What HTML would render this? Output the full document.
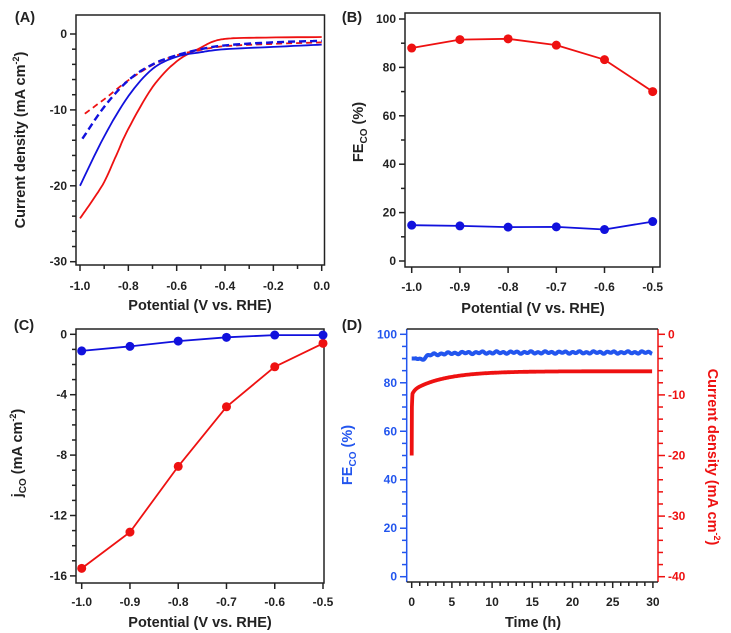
<!DOCTYPE html>
<html><head><meta charset="utf-8"><style>
html,body{margin:0;padding:0;background:#fff;}
svg{display:block;font-family:"Liberation Sans",Arial,sans-serif;font-weight:bold;}
</style></head><body>
<svg id="s" width="731" height="633" viewBox="0 0 731 633" xmlns="http://www.w3.org/2000/svg"></svg>
<script>
const S=document.getElementById('s');let h='';
const R='#ee1111',B='#1111dd',BL='#2255ee';
function L(x1,y1,x2,y2,c,w){h+=`<line x1="${x1}" y1="${y1}" x2="${x2}" y2="${y2}" stroke="${c||'#222'}" stroke-width="${w||1.5}"/>`;}
function T(x,y,t,o){o=o||{};h+=`<text x="${x}" y="${y}" font-size="${o.fs||12}" fill="${o.c||'#222'}" text-anchor="${o.a||'middle'}" ${o.tr?`transform="${o.tr}"`:''}>${t}</text>`;}
function rect(x1,y1,x2,y2){h+=`<rect x="${x1}" y="${y1}" width="${x2-x1}" height="${y2-y1}" fill="none" stroke="#222" stroke-width="1.5"/>`;}
function path(pts,c,w,dash){h+=`<polyline points="${pts.map(p=>p[0].toFixed(1)+','+p[1].toFixed(1)).join(' ')}" fill="none" stroke="${c}" stroke-width="${w||1.8}" ${dash?`stroke-dasharray="${dash}"`:''} stroke-linejoin="round"/>`;}
function dots(pts,c,r){pts.forEach(p=>h+=`<circle cx="${p[0]}" cy="${p[1]}" r="${r||4.5}" fill="${c}"/>`);}
function sm(pts,n){
 let out=[];for(let i=0;i<pts.length-1;i++){const p0=pts[Math.max(0,i-1)],p1=pts[i],p2=pts[i+1],p3=pts[Math.min(pts.length-1,i+2)];
 for(let k=0;k<n;k++){const t=k/n,t2=t*t,t3=t2*t;out.push([0,1].map(j=>0.5*((2*p1[j])+(-p0[j]+p2[j])*t+(2*p0[j]-5*p1[j]+4*p2[j]-p3[j])*t2+(-p0[j]+3*p1[j]-3*p2[j]+p3[j])*t3)));}}
 out.push(pts[pts.length-1]);return out;}

// Panel A
{const X=v=>80+(v+1)*241.7,Y=v=>34-v*7.59;
rect(76,15,324.5,265);
for(let i=0;i<=10;i++){const x=X(-1+i*0.1);L(x,265,x,i%2==0?271:269);}
[0,-0.2,-0.4,-0.6,-0.8,-1].forEach(v=>T(X(v),290,v.toFixed(1)));
for(let v=0;v>=-30;v-=2){const y=Y(v);L(76,y,v%10==0?70:72,y);}
[0,-10,-20,-30].forEach(v=>T(67,Y(v)+4,v,{a:'end'}));
T(200,310,'Potential (V vs. RHE)',{fs:14.5});
T(0,0,'Current density (mA cm<tspan dy="-6" font-size="9">-2</tspan><tspan dy="6">)</tspan>',{fs:14.5,tr:'translate(25,140) rotate(-90)'});
T(25,22,'(A)',{fs:14.5});
const m=a=>sm(a.map(p=>[X(p[0]),Y(p[1])]),8);
path(m([[-1,-24.3],[-0.95,-22],[-0.9,-19.5],[-0.85,-16],[-0.8,-12.5],[-0.7,-7],[-0.6,-3.6],[-0.5,-1.8],[-0.45,-1],[-0.4,-0.65],[-0.3,-0.5],[0,-0.4]]),R);
path(m([[-1,-20],[-0.9,-13.5],[-0.8,-8.2],[-0.7,-4.6],[-0.6,-3],[-0.5,-2.4],[-0.4,-2],[-0.2,-1.7],[0,-1.4]]),B);
path(m([[-0.98,-10.5],[-0.9,-8.6],[-0.8,-6.1],[-0.7,-4.1],[-0.6,-2.8],[-0.5,-2.1],[-0.4,-1.6],[-0.2,-1.3],[0,-1.1]]),R,1.8,'6,4');
path(m([[-0.99,-13.8],[-0.9,-9.6],[-0.8,-6.1],[-0.7,-4],[-0.6,-2.8],[-0.5,-2],[-0.4,-1.5],[-0.2,-1.1],[0,-0.9]]),B,2.4,'7,4');
}
// Panel B
{const X=v=>411.7+(v+1)*482,Y=v=>261-v*2.42;
rect(405,13,660,267);
for(let i=0;i<=5;i++){const x=X(-1+i*0.1);L(x,267,x,273);}
[-1,-0.9,-0.8,-0.7,-0.6,-0.5].forEach(v=>T(X(v),291,v.toFixed(1)));
for(let v=0;v<=100;v+=10){const y=Y(v);L(405,y,v%20==0?399:401,y);}
[0,20,40,60,80,100].forEach(v=>T(396,Y(v)+4,v,{a:'end'}));
T(533,313,'Potential (V vs. RHE)',{fs:14.5});
T(0,0,'FE<tspan dy="4" font-size="10">CO</tspan><tspan dy="-4"> (%)</tspan>',{fs:14.5,tr:'translate(363,132) rotate(-90)'});
T(352,22,'(B)',{fs:14.5});
const xs=[-1,-0.9,-0.8,-0.7,-0.6,-0.5];
const r=[88,91.5,91.8,89.2,83.2,70].map((v,i)=>[X(xs[i]),Y(v)]);
const b=[14.8,14.5,14,14.1,13,16.3].map((v,i)=>[X(xs[i]),Y(v)]);
path(r,R);dots(r,R);path(b,B);dots(b,B);
}
// Panel C
{const X=v=>81.7+(v+1)*482.6,Y=v=>334.3-v*15.1;
rect(76,329,324,583);
for(let i=0;i<=5;i++){const x=X(-1+i*0.1);L(x,583,x,589);}
[-1,-0.9,-0.8,-0.7,-0.6,-0.5].forEach(v=>T(X(v),606,v.toFixed(1)));
for(let v=0;v>=-16;v-=1){const y=Y(v);L(76,y,v%4==0?70:72,y);}
[0,-4,-8,-12,-16].forEach(v=>T(67,Y(v)+4,v,{a:'end'}));
T(200,627,'Potential (V vs. RHE)',{fs:14.5});
T(0,0,'j<tspan dy="4" font-size="10">CO</tspan><tspan dy="-4"> (mA cm</tspan><tspan dy="-6" font-size="9">-2</tspan><tspan dy="6">)</tspan>',{fs:14.5,tr:'translate(22,453) rotate(-90)'});
T(24,330,'(C)',{fs:14.5});
const xs=[-1,-0.9,-0.8,-0.7,-0.6,-0.5];
const r=[-15.5,-13.1,-8.75,-4.8,-2.15,-0.6].map((v,i)=>[X(xs[i]),Y(v)]);
const b=[-1.1,-0.8,-0.45,-0.2,-0.05,-0.05].map((v,i)=>[X(xs[i]),Y(v)]);
path(r,R);dots(r,R);path(b,B);dots(b,B);
}
// Panel D
{const X=v=>411.7+v*8.04,Y=v=>576.7-v*2.424;
const Yr=v=>334.3+(-v)*6.06;
L(406.7,329,406.7,582,BL);L(658,329,658,582,R);L(406.7,582,658,582);L(406.7,329,658,329);
for(let t=0;t<=30;t++){const x=X(t);L(x,582,x,t%5==0?588:586);}
[0,5,10,15,20,25,30].forEach(v=>T(X(v),606,v));
for(let v=0;v<=100;v+=5){const y=Y(v);L(406.7,y,v%20==0?400:402,y,BL);}
[0,20,40,60,80,100].forEach(v=>T(397,Y(v)+4,v,{a:'end',c:BL}));
for(let v=0;v>=-40;v-=2){const y=Yr(v);L(658,y,v%10==0?665:663,y,R);}
[0,-10,-20,-30,-40].forEach(v=>T(668,Yr(v)+4,v,{a:'start',c:R}));
T(533,627,'Time (h)',{fs:14.5});
T(0,0,'FE<tspan dy="4" font-size="10">CO</tspan><tspan dy="-4"> (%)</tspan>',{fs:14.5,c:BL,tr:'translate(352,455) rotate(-90)'});
T(0,0,'Current density (mA cm<tspan dy="-6" font-size="9">-2</tspan><tspan dy="6">)</tspan>',{fs:14.5,c:R,tr:'translate(708,457) rotate(90)'});
T(352,330,'(D)',{fs:14.5});
let bp=[],rp=[];
for(let t=0;t<=30;t+=0.1){
 let fe=92.5-2.5*Math.exp(-t/2.5)-1.3*Math.exp(-Math.pow((t-1.2)/0.6,2))+0.35*Math.sin(t*7.3)+0.2*Math.sin(t*3.1);
 if(t<0.5)fe=90;
 bp.push([X(t),Y(fe)]);
 let j=-6.1-3.2*Math.exp(-t/4.5)*(1-Math.min(1,t/40))-0.8*Math.exp(-t/0.3);
 rp.push([X(t),Yr(j)]);
}
path(bp,BL,4);path([[X(0),Yr(-20)],[X(0.02),Yr(-12)],[X(0.08),Yr(-10.3)]].concat(rp.slice(1)),R,3.8);
}
S.innerHTML=h;
</script>
</body></html>
